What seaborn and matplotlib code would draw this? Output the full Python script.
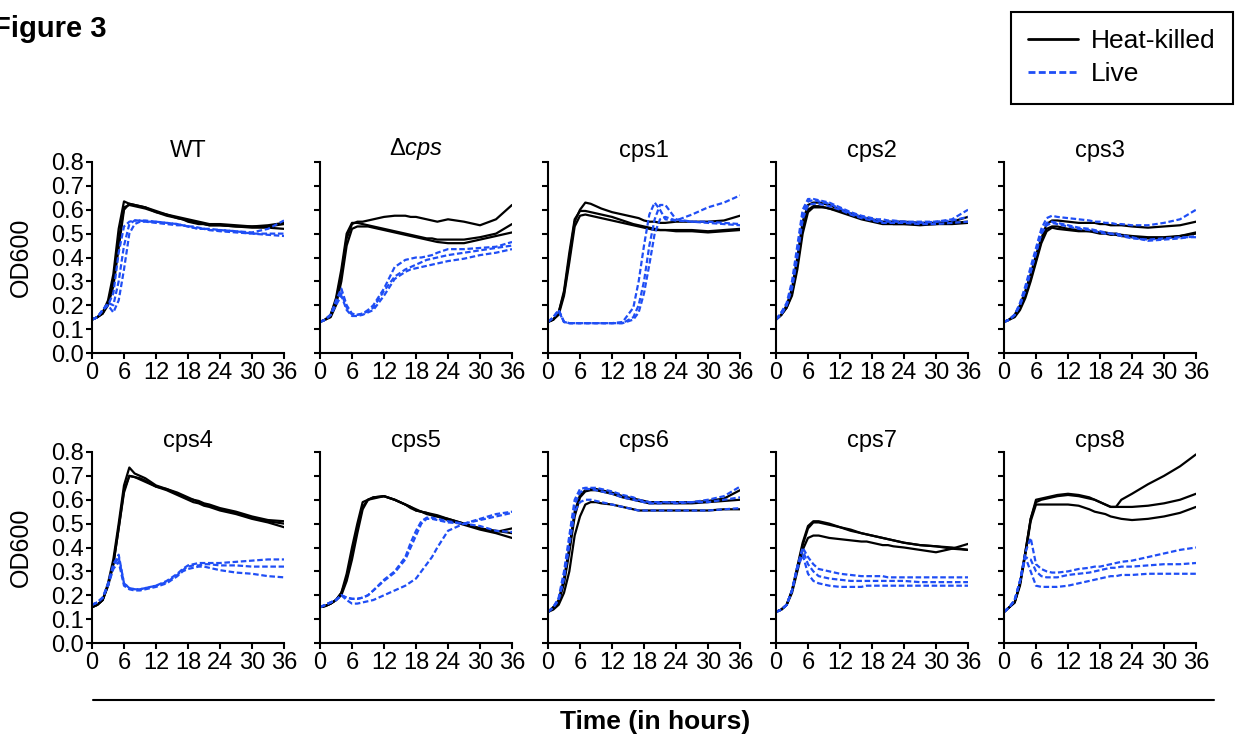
import numpy as np
import pandas as pd
import seaborn as sns
import matplotlib.pyplot as plt
from matplotlib.lines import Line2D

sns.set_style("ticks")
plt.rcParams['font.family'] = ['Liberation Sans', 'DejaVu Sans']
plt.rcParams['mathtext.fontset'] = 'custom'
plt.rcParams['mathtext.rm'] = 'Liberation Sans'
plt.rcParams['mathtext.it'] = 'Liberation Sans:italic'
for key in ('text.color', 'axes.labelcolor', 'xtick.color', 'ytick.color', 'axes.edgecolor'):
    plt.rcParams[key] = 'black'

BLUE = "#1F4EF5"

# sampling times (hours) shared by every curve
hours = [0, 1, 2, 3, 4, 5, 6, 7, 8, 9, 10, 12, 14, 16, 17, 18, 19, 20, 21, 22, 24, 27, 30, 33, 36]

panel_titles = ["WT", "Δ$\\mathit{cps}$", "cps1", "cps2", "cps3",
                "cps4", "cps5", "cps6", "cps7", "cps8"]

# OD600 readings, three replicates per condition
wt_hk = [
    [.14, .15, .17, .22, .33, .52, .635, .625, .62, .615, .61, .595, .58, .57, .565, .56, .555, .55, .545, .54, .54, .535, .53, .53, .54],
    [.14, .15, .165, .20, .28, .44, .60, .625, .62, .615, .61, .59, .58, .565, .56, .555, .55, .545, .54, .535, .535, .53, .525, .525, .52],
    [.14, .15, .165, .21, .30, .47, .61, .62, .615, .61, .605, .59, .575, .565, .56, .55, .545, .54, .54, .535, .535, .53, .53, .535, .545],
]
wt_live = [
    [.14, .15, .18, .21, .20, .30, .45, .54, .555, .555, .55, .55, .545, .54, .535, .53, .53, .525, .52, .52, .515, .51, .50, .50, .50],
    [.14, .15, .18, .20, .17, .22, .35, .50, .54, .55, .55, .545, .54, .535, .535, .53, .525, .52, .52, .515, .51, .505, .50, .495, .49],
    [.14, .15, .18, .20, .25, .42, .53, .55, .555, .555, .555, .55, .545, .54, .535, .53, .525, .52, .52, .515, .515, .51, .505, .52, .555],
]
dcps_hk = [
    [.13, .14, .16, .22, .33, .48, .54, .55, .55, .555, .56, .57, .575, .575, .57, .57, .565, .56, .555, .55, .56, .55, .535, .56, .62],
    [.13, .14, .16, .23, .35, .50, .545, .545, .54, .535, .53, .52, .51, .50, .495, .49, .485, .48, .48, .475, .475, .475, .485, .50, .54],
    [.13, .14, .15, .20, .30, .45, .52, .53, .53, .53, .525, .515, .505, .495, .49, .485, .48, .475, .47, .465, .46, .46, .475, .49, .505],
]
dcps_live = [
    [.13, .14, .16, .22, .27, .20, .165, .16, .165, .18, .20, .27, .36, .39, .395, .40, .40, .405, .41, .42, .435, .435, .44, .445, .465],
    [.13, .14, .16, .21, .25, .19, .16, .16, .165, .175, .19, .26, .32, .35, .36, .37, .38, .39, .395, .40, .41, .42, .43, .44, .45],
    [.13, .14, .16, .20, .24, .18, .155, .155, .16, .17, .18, .24, .31, .34, .35, .355, .36, .365, .37, .375, .385, .395, .41, .42, .435],
]
cps1_hk = [
    [.13, .14, .17, .25, .40, .55, .60, .63, .625, .615, .605, .59, .58, .57, .565, .555, .55, .55, .545, .545, .55, .55, .55, .555, .575],
    [.13, .14, .17, .26, .42, .56, .595, .595, .59, .585, .58, .57, .555, .54, .535, .53, .525, .52, .515, .515, .515, .515, .51, .515, .52],
    [.13, .14, .16, .24, .38, .53, .575, .58, .575, .57, .565, .555, .545, .535, .53, .525, .52, .515, .515, .515, .51, .51, .505, .51, .515],
]
cps1_live = [
    [.13, .15, .18, .13, .125, .125, .125, .125, .125, .125, .125, .125, .13, .19, .30, .45, .58, .63, .60, .56, .555, .58, .61, .63, .66],
    [.13, .15, .18, .13, .125, .125, .125, .125, .125, .125, .125, .125, .125, .15, .20, .30, .45, .56, .62, .62, .56, .55, .55, .545, .54],
    [.13, .15, .175, .13, .125, .125, .125, .125, .125, .125, .125, .125, .125, .14, .17, .25, .37, .50, .56, .57, .555, .55, .545, .54, .535],
]
cps2_hk = [
    [.14, .16, .20, .27, .40, .55, .62, .63, .63, .625, .62, .60, .585, .57, .565, .56, .555, .55, .55, .55, .55, .545, .545, .55, .57],
    [.14, .16, .19, .25, .37, .52, .60, .615, .615, .61, .605, .595, .58, .565, .56, .555, .55, .545, .545, .54, .54, .54, .54, .545, .55],
    [.14, .16, .19, .24, .35, .50, .59, .61, .61, .61, .605, .59, .575, .56, .555, .55, .545, .54, .54, .54, .54, .535, .54, .54, .545],
]
cps2_live = [
    [.14, .17, .21, .30, .45, .60, .645, .645, .64, .635, .63, .61, .59, .575, .57, .565, .56, .56, .555, .555, .55, .55, .55, .56, .60],
    [.14, .17, .20, .28, .42, .58, .635, .64, .635, .63, .625, .605, .585, .57, .565, .56, .555, .55, .55, .55, .55, .545, .55, .555, .57],
    [.14, .16, .20, .27, .40, .56, .62, .625, .625, .62, .615, .60, .58, .565, .56, .555, .55, .545, .545, .545, .545, .54, .54, .545, .55],
]
cps3_hk = [
    [.13, .14, .16, .20, .26, .33, .41, .48, .54, .555, .555, .55, .545, .545, .545, .54, .54, .535, .535, .535, .53, .525, .53, .535, .55],
    [.13, .14, .16, .19, .24, .31, .39, .47, .52, .53, .53, .52, .515, .51, .51, .505, .505, .50, .50, .495, .49, .485, .485, .49, .50],
    [.13, .14, .15, .18, .23, .30, .38, .46, .51, .525, .52, .515, .51, .51, .505, .50, .50, .495, .495, .49, .485, .48, .48, .49, .505],
]
cps3_live = [
    [.13, .14, .16, .21, .28, .36, .44, .52, .565, .575, .57, .565, .56, .555, .55, .55, .545, .545, .54, .54, .535, .535, .545, .56, .60],
    [.13, .14, .16, .20, .27, .34, .42, .50, .545, .55, .545, .535, .525, .52, .515, .51, .505, .50, .50, .495, .485, .47, .475, .48, .49],
    [.13, .14, .16, .20, .26, .34, .42, .50, .535, .545, .54, .53, .52, .515, .51, .505, .50, .50, .495, .49, .48, .475, .48, .485, .485],
]
cps4_hk = [
    [.15, .16, .18, .25, .35, .50, .66, .735, .71, .70, .69, .66, .645, .63, .62, .61, .60, .595, .585, .58, .565, .55, .53, .515, .51],
    [.15, .16, .18, .24, .33, .48, .64, .70, .695, .69, .68, .655, .645, .625, .615, .605, .60, .59, .58, .575, .56, .545, .525, .51, .50],
    [.15, .16, .18, .24, .33, .48, .63, .70, .695, .685, .675, .655, .64, .62, .61, .60, .59, .585, .575, .57, .555, .54, .52, .505, .485],
]
cps4_live = [
    [.16, .17, .19, .25, .33, .37, .25, .23, .225, .225, .23, .24, .26, .29, .31, .325, .33, .335, .335, .335, .335, .34, .345, .35, .35],
    [.16, .17, .19, .24, .32, .36, .25, .23, .225, .225, .23, .24, .255, .285, .305, .32, .325, .325, .33, .33, .325, .325, .32, .32, .32],
    [.16, .17, .19, .24, .31, .34, .24, .225, .22, .22, .225, .235, .25, .28, .30, .31, .315, .32, .32, .315, .305, .295, .29, .28, .275],
]
cps5_hk = [
    [.15, .155, .165, .18, .21, .29, .40, .50, .59, .60, .61, .615, .60, .58, .57, .56, .55, .545, .54, .535, .52, .50, .48, .47, .46],
    [.15, .155, .165, .18, .21, .27, .37, .48, .57, .60, .61, .615, .60, .58, .57, .555, .55, .54, .535, .53, .515, .495, .475, .46, .44],
    [.15, .155, .165, .18, .20, .26, .35, .46, .56, .60, .605, .615, .60, .58, .565, .555, .55, .545, .535, .53, .52, .50, .48, .465, .48],
]
cps5_live = [
    [.15, .16, .17, .18, .20, .19, .185, .185, .19, .20, .22, .265, .30, .36, .42, .47, .51, .525, .525, .52, .51, .50, .52, .54, .55],
    [.15, .16, .17, .18, .20, .18, .165, .165, .17, .175, .18, .20, .22, .24, .255, .27, .30, .33, .36, .40, .47, .50, .49, .47, .465],
    [.15, .16, .17, .18, .20, .19, .185, .185, .19, .20, .22, .26, .295, .35, .40, .45, .50, .52, .52, .515, .505, .50, .515, .53, .545],
]
cps6_hk = [
    [.13, .15, .18, .27, .40, .55, .62, .64, .645, .645, .64, .63, .615, .605, .60, .595, .59, .59, .59, .59, .59, .59, .595, .605, .64],
    [.13, .15, .17, .25, .38, .53, .61, .635, .64, .64, .635, .625, .61, .60, .595, .59, .585, .585, .585, .585, .585, .585, .59, .595, .60],
    [.13, .14, .16, .21, .30, .45, .53, .58, .59, .59, .585, .58, .57, .56, .555, .555, .555, .555, .555, .555, .555, .555, .555, .56, .56],
]
cps6_live = [
    [.13, .15, .19, .30, .45, .60, .645, .65, .65, .65, .645, .635, .62, .61, .60, .595, .59, .59, .59, .59, .59, .59, .60, .615, .655],
    [.13, .15, .18, .27, .41, .55, .59, .60, .60, .595, .59, .58, .57, .56, .555, .555, .555, .555, .555, .555, .555, .555, .555, .56, .565],
    [.13, .15, .18, .28, .43, .58, .63, .645, .645, .64, .635, .625, .61, .60, .595, .59, .585, .585, .585, .59, .585, .59, .59, .60, .61],
]
cps7_hk = [
    [.13, .14, .16, .22, .32, .42, .49, .51, .51, .505, .50, .485, .475, .46, .455, .45, .445, .44, .435, .43, .42, .41, .405, .40, .39],
    [.13, .14, .16, .22, .31, .41, .48, .505, .505, .50, .495, .485, .47, .46, .455, .45, .445, .44, .435, .43, .42, .41, .405, .395, .39],
    [.13, .14, .16, .21, .30, .39, .44, .45, .45, .445, .44, .435, .43, .425, .425, .42, .415, .41, .41, .405, .40, .39, .38, .395, .415],
]
cps7_live = [
    [.13, .14, .16, .22, .32, .40, .36, .33, .31, .305, .30, .29, .285, .28, .28, .28, .28, .28, .275, .275, .275, .275, .275, .275, .275],
    [.13, .14, .16, .22, .32, .39, .33, .30, .28, .275, .27, .265, .26, .26, .26, .26, .26, .26, .26, .26, .26, .255, .255, .255, .255],
    [.13, .14, .16, .22, .31, .37, .29, .26, .25, .245, .24, .235, .235, .235, .24, .24, .24, .24, .24, .24, .24, .24, .24, .24, .24],
]
cps8_hk = [
    [.13, .15, .17, .25, .38, .52, .60, .605, .61, .615, .62, .625, .62, .61, .60, .59, .58, .57, .57, .60, .625, .665, .70, .74, .79],
    [.13, .15, .17, .25, .38, .52, .59, .60, .605, .61, .615, .62, .615, .605, .60, .59, .58, .57, .57, .57, .57, .575, .585, .60, .625],
    [.13, .15, .17, .24, .37, .51, .58, .58, .58, .58, .58, .58, .575, .56, .55, .545, .54, .53, .525, .52, .515, .52, .53, .545, .57],
]
cps8_live = [
    [.13, .15, .18, .26, .38, .44, .33, .31, .30, .295, .295, .30, .31, .315, .32, .32, .325, .33, .335, .34, .345, .36, .375, .39, .40],
    [.13, .15, .18, .26, .36, .35, .30, .28, .275, .275, .275, .285, .29, .295, .30, .305, .31, .315, .315, .32, .32, .325, .33, .33, .335],
    [.13, .15, .18, .26, .36, .30, .24, .235, .235, .235, .235, .24, .25, .26, .265, .27, .275, .28, .28, .285, .285, .29, .29, .29, .29],
]

heat_killed = [wt_hk, dcps_hk, cps1_hk, cps2_hk, cps3_hk, cps4_hk, cps5_hk, cps6_hk, cps7_hk, cps8_hk]
live = [wt_live, dcps_live, cps1_live, cps2_live, cps3_live, cps4_live, cps5_live, cps6_live, cps7_live, cps8_live]

rows = []
for title, hk, lv in zip(panel_titles, heat_killed, live):
    for cond, reps in (("Heat-killed", hk), ("Live", lv)):
        for r, vals in enumerate(reps):
            for t, v in zip(hours, vals):
                rows.append({"panel": title, "cond": cond, "rep": r, "hours": t, "od": v})
df = pd.DataFrame(rows)

palette = {"Heat-killed": "black", "Live": BLUE}
dash_map = {"Heat-killed": "", "Live": (2.5, 1.2)}

fig = plt.figure(figsize=(12.36, 7.38), dpi=100)
W, H = 1236, 738
lefts = [92, 320, 548, 776, 1004]
row_bottoms = [353, 643]
ax_w, ax_h = 192, 191

for i, title in enumerate(panel_titles):
    r, c = divmod(i, 5)
    ax = fig.add_axes([lefts[c] / W, 1 - row_bottoms[r] / H, ax_w / W, ax_h / H])
    sns.lineplot(data=df[df["panel"] == title], x="hours", y="od", hue="cond", style="cond",
                 units="rep", estimator=None, hue_order=["Heat-killed", "Live"],
                 palette=palette, dashes=dash_map, linewidth=1.6, legend=False, ax=ax)
    ax.set_xlim(0, 36)
    ax.set_ylim(0, 0.8)
    ax.set_xticks(range(0, 37, 6))
    ax.set_yticks(np.round(np.arange(0, 0.81, 0.1), 1))
    ax.tick_params(direction="out", length=4.5, width=1.5, labelsize=17, pad=1)
    ax.tick_params(axis="x", pad=2)
    if c == 0:
        ax.set_yticklabels([f"{v:.1f}" for v in np.arange(0, 0.81, 0.1)])
        ax.set_ylabel("OD600", fontsize=18)
        ax.yaxis.set_label_coords(-0.31, 0.5)
    else:
        ax.set_yticklabels([])
        ax.set_ylabel("")
    ax.set_xlabel("")
    ax.set_title(title, fontsize=17, pad=2)
    for s in ("top", "right"):
        ax.spines[s].set_visible(False)
    for s in ("left", "bottom"):
        ax.spines[s].set_linewidth(1.5)

fig.text(-7 / W, 1 - 37 / H, "Figure 3", fontsize=21, fontweight="bold", va="baseline", ha="left")

handles = [Line2D([], [], color="black", lw=2),
           Line2D([], [], color=BLUE, lw=2, dashes=(2.5, 1.2))]
leg = fig.legend(handles, ["Heat-killed", "Live"], loc="upper right",
                 bbox_to_anchor=(1233 / W, 1 - 12 / H), frameon=True, fancybox=False,
                 edgecolor="black", fontsize=19, handlelength=1.9, handletextpad=0.5,
                 labelspacing=0.35, borderpad=0.65, borderaxespad=0)
leg.get_frame().set_linewidth(1.5)
leg.get_frame().set_alpha(1)

fig.add_artist(Line2D([93 / W, 1214 / W], [1 - 700 / H, 1 - 700 / H], color="black", lw=1.5))
fig.text(655 / W, 1 - 722 / H, "Time (in hours)", fontsize=19, fontweight="bold", ha="center", va="center")

fig.savefig("out.png", dpi=100)
